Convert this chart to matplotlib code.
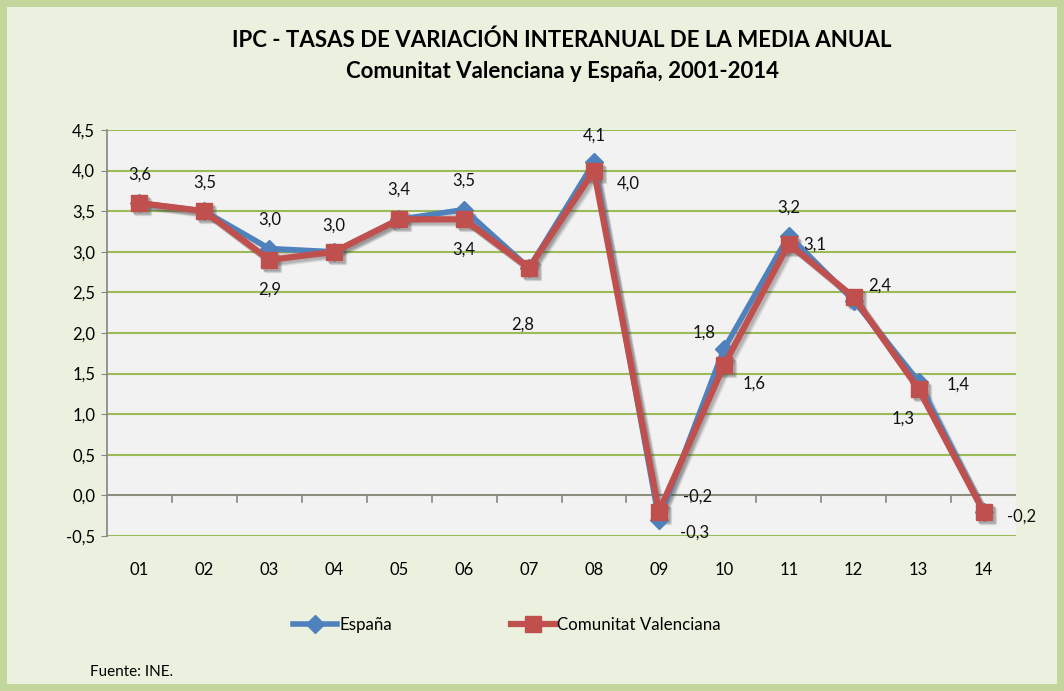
import numpy as np
import matplotlib.pyplot as plt
import matplotlib.transforms as mtransforms
from matplotlib.lines import Line2D
from matplotlib.patches import Rectangle

plt.rcParams['font.family'] = ['Lato', 'DejaVu Sans']

# data
years = ['01', '02', '03', '04', '05', '06', '07', '08', '09', '10', '11', '12', '13', '14']
espana = [3.6, 3.5, 3.04, 3.0, 3.4, 3.52, 2.8, 4.1, -0.3, 1.8, 3.2, 2.4, 1.4, -0.2]
cv = [3.6, 3.5, 2.9, 3.0, 3.4, 3.4, 2.8, 4.0, -0.2, 1.6, 3.1, 2.44, 1.31, -0.2]

# label offsets in pixels (None = hidden)
esp_off = [(0, 28), (0, 29), (0, 29), (0, 26), (0, 30), (0, 29), None, (0, 27),
           (36, -13), (-20, 17), (0, 28), (26, 15), (39, -3), None]
cv_off = [None, None, (0, -30), None, None, (0, -30), (-6, -57), (34, -13),
          (39, 15), (30, -18), (26, -1), None, (-16, -30), (38, -5)]

fig = plt.figure(figsize=(10.64, 6.91), dpi=100)
fig.patch.set_facecolor('#C3D69B')
bg = Rectangle((7 / 1064, 7 / 691), 1 - 14 / 1064, 1 - 14 / 691,
               transform=fig.transFigure, facecolor='#EBF1DE', edgecolor='none', zorder=-10)
fig.add_artist(bg)

ax = fig.add_axes([107 / 1064, 1 - 536 / 691, 909 / 1064, 406 / 691])
ax.set_facecolor('#F2F2F2')

x = np.arange(len(years))

# soft drop shadows
for dx, a in [(4, 0.10), (3, 0.15), (2, 0.15)]:
    sh = ax.transData + mtransforms.ScaledTranslation(dx / 100, -dx / 100, fig.dpi_scale_trans)
    ax.plot(x, cv, color='#404040', lw=5, marker='s', ms=11, alpha=a, transform=sh,
            zorder=2.5, solid_joinstyle='round')
    ax.plot(x, espana, color='#404040', lw=4, alpha=a * 0.6, transform=sh, zorder=2.5)

ax.plot(x, espana, color='#4F81BD', lw=4, marker='D', ms=9, mec='#4F81BD', zorder=3)
ax.plot(x, cv, color='#C0504D', lw=4.5, marker='s', ms=11, mec='#C0504D', zorder=4)

for vals, offs in [(espana, esp_off), (cv, cv_off)]:
    for i, (v, o) in enumerate(zip(vals, offs)):
        if o is None:
            continue
        ax.annotate(('%.1f' % v).replace('.', ','), (i, v), xytext=(o[0] * 0.72, o[1] * 0.72),
                    textcoords='offset points', ha='center', va='center', fontsize=12,
                    color='#111111', zorder=5)

ax.set_xlim(-0.5, len(years) - 0.5)
ax.set_ylim(-0.5, 4.5)
yt = np.arange(-0.5, 4.51, 0.5)
ax.set_yticks(yt)
ax.set_yticklabels([('%.1f' % t).replace('.', ',') for t in yt], fontsize=12)
ax.yaxis.grid(True, color='#9BBB59', lw=1.5)
ax.set_axisbelow(True)
for s in ['top', 'right', 'bottom']:
    ax.spines[s].set_visible(False)
ax.spines['left'].set_color('#868686')
ax.spines['left'].set_linewidth(1.2)
ax.tick_params(axis='y', color='#868686', length=4.5, pad=4)

# category axis at zero
ax.axhline(0, color='#868686', lw=1.2, zorder=2)
for b in np.arange(0.5, len(years) - 1, 1):
    ax.plot([b, b], [0, -0.08], color='#868686', lw=1.2, zorder=2)
ax.set_xticks(x)
ax.set_xticklabels(years, fontsize=12)
ax.tick_params(axis='x', length=0, pad=19)

fig.text(562 / 1064, 1 - 40 / 691, 'IPC - TASAS DE VARIACIÓN INTERANUAL DE LA MEDIA ANUAL',
         ha='center', va='center', fontsize=16, fontweight='bold')
fig.text(562 / 1064, 1 - 72 / 691, 'Comunitat Valenciana y España, 2001-2014',
         ha='center', va='center', fontsize=16, fontweight='bold')

h1 = Line2D([], [], color='#4F81BD', lw=4, marker='D', ms=9, mec='#4F81BD')
h2 = Line2D([], [], color='#C0504D', lw=4.5, marker='s', ms=11, mec='#C0504D')
fig.legend(handles=[h1, h2], labels=['España', 'Comunitat Valenciana'], loc='center',
           bbox_to_anchor=(507 / 1064, 1 - 625 / 691), ncol=2, frameon=False, fontsize=12.2,
           handlelength=2.6, handletextpad=0.15, columnspacing=7)

fig.text(90 / 1064, 1 - 672 / 691, 'Fuente: INE.', ha='left', va='center', fontsize=11)

plt.savefig('out.png', dpi=100, facecolor=fig.get_facecolor())
